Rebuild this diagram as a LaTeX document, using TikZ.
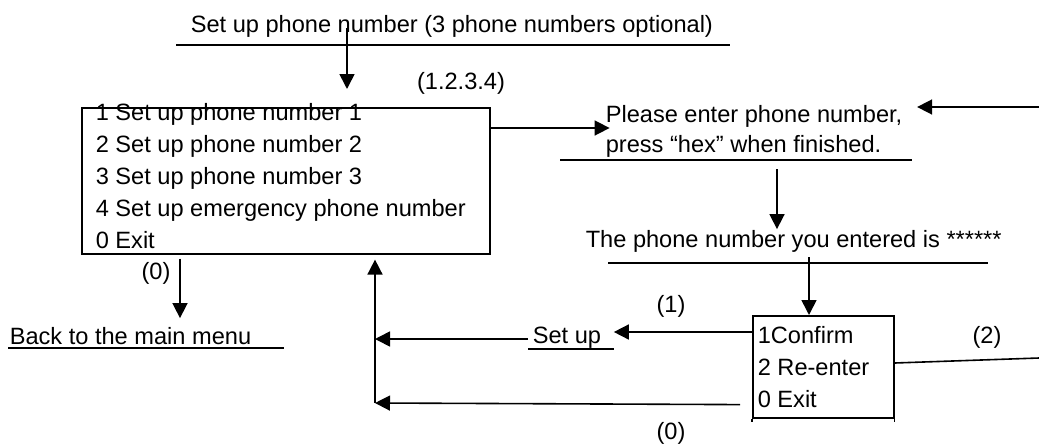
\documentclass[tikz,border=0pt]{standalone}
\usepackage{fontspec}
\setmainfont{Liberation Sans}
\usetikzlibrary{positioning}
\usetikzlibrary{arrows.meta}

\tikzset{
  txt/.style={inner sep=0pt, anchor=base west},
  lab/.style={inner sep=0pt},
  box/.style={draw, inner sep=0pt, anchor=north west},
  arr/.style={-{Triangle[length=15pt,width=15pt]}},
}

\begin{document}
\begin{tikzpicture}[x=1pt, y=-1pt, line width=1.6pt, font=\fontsize{23.6}{29}\selectfont]
                \useasboundingbox (0,0) rectangle (1039,445);

                % heading
                \node(title) [txt] at (190,32) {Set up phone number (3 phone numbers optional)};
                \draw (176,45) -- (730,45);

                % menu box
                \node(menu) [box, minimum width=408pt, minimum height=146pt] at (81,107) {};
                \node(m1) [txt] at (95,120) {1 Set up phone number 1};
                \node(m2) [txt] at ([yshift=-32pt]m1.base west) {2 Set up phone number 2};
                \node(m3) [txt] at ([yshift=-32pt]m2.base west) {3 Set up phone number 3};
                \node(m4) [txt] at ([yshift=-32pt]m3.base west) {4 Set up emergency phone number};
                \node(m0) [txt] at ([yshift=-32pt]m4.base west) {0 Exit};
                \node(lsel) [lab] at (461,83) {(1.2.3.4)};

                % phone entry
                \node(p1) [txt] at (605,122) {Please enter phone number,};
                \node(p2) [txt] at ([yshift=-30pt]p1.base west) {press “hex” when finished.};
                \draw (560,160) -- (912,160);

                \node(ph) [txt] at (585,247) {The phone number you entered is ******};
                \draw (608,263) -- (988,263);

                % confirm box
                \node(conf) [box, minimum width=141pt, minimum height=102pt] at (752,315) {};
                \draw (conf.south west) -- ++(0,3) (conf.south east) -- ++(0,3);
                \node(c1) [txt] at (757,343) {1Confirm};
                \node(c2) [txt] at ([yshift=-32pt]c1.base west) {2 Re-enter};
                \node(c3) [txt] at ([yshift=-32pt]c2.base west) {0 Exit};

                \node(su) [txt] at (532,343) {Set up};
                \draw (528,349) -- (614,349);
                \node(back) [txt] at (9,344) {Back to the main menu};
                \draw (8,348) -- (284,348);

                \node(l0a) [lab] at (156,273) {(0)};
                \node(l1) [lab] at (671,306) {(1)};
                \node(l0b) [lab] at (671,433) {(0)};
                \node(l2) [lab] at (987,337) {(2)};

                % arrows
                \coordinate(ta) at (347,28);
                \coordinate(rtop) at (1039,107);
                \coordinate(rbot) at (1039,358);
                \coordinate(pa) at (777,169);
                \coordinate(pb) at (809,257);
                \coordinate(corner) at (375,403);

                \draw[arr, shorten >=18pt] (ta) -- (ta |- menu.north);
                \draw[arr] ([yshift=-21pt]menu.north east) -- +(119,0);
                \draw[arr, shorten >=14pt] (rtop) -- (rtop -| p1.east);
                \draw[arr] (pa) -- (pa |- ph.north);
                \draw[arr] (pb) -- (pb |- conf.north);
                \draw[arr, shorten >=12pt] ([yshift=-17pt]conf.north west) coordinate(cw) -- (cw -| su.east);
                \draw[arr] ([xshift=-4pt,yshift=4pt]su.base west) coordinate(sw) -- (sw -| corner);
                \draw[arr] ([xshift=-12pt,yshift=14pt]conf.south west) -- (corner);
                \draw[arr, shorten >=5pt] (corner) -- (corner |- menu.south);
                \draw ([yshift=-48pt]conf.north east) -- (rbot);
                \draw[arr, shorten >=8pt] ([xshift=99pt,yshift=-4pt]menu.south west) coordinate(bs) -- (bs |- back.north);
            \end{tikzpicture}
\end{document}
